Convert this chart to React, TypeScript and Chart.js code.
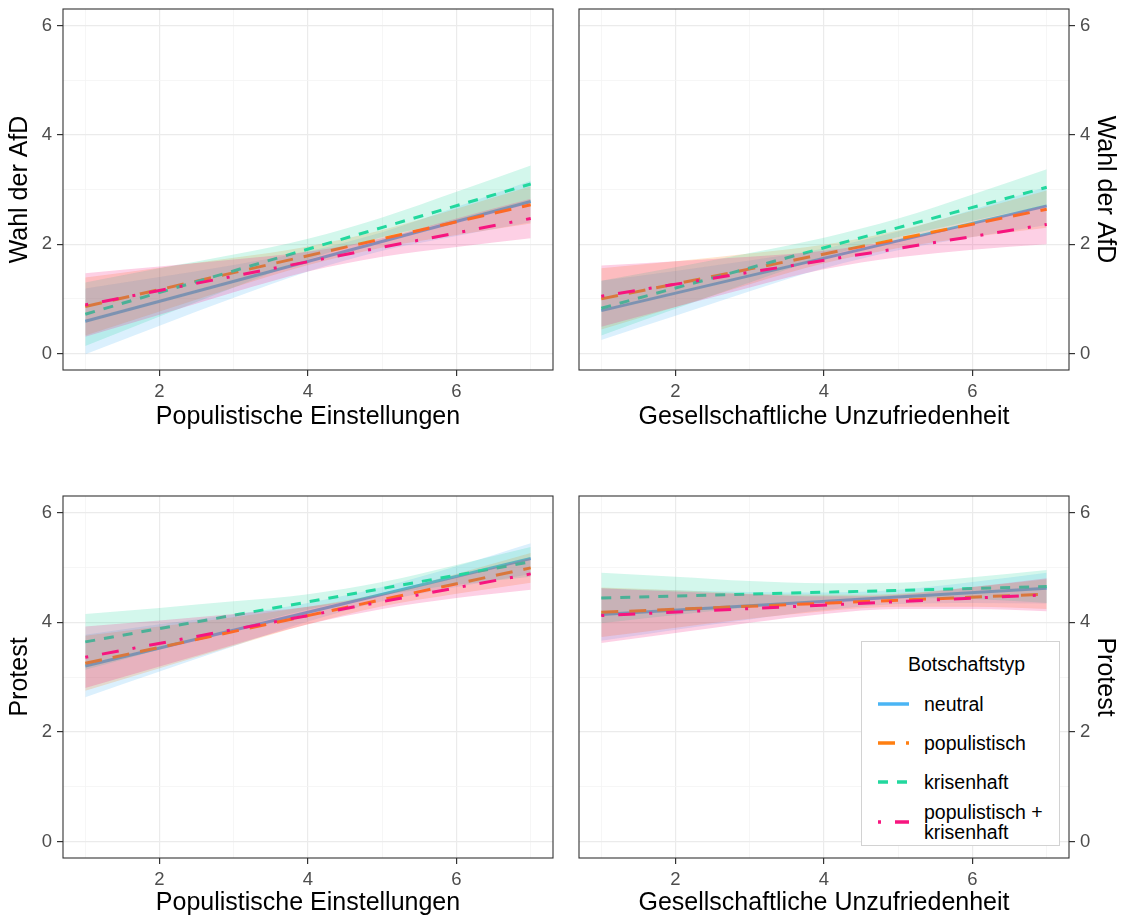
import React, { useEffect, useRef } from 'react';
import { Chart, registerables } from 'chart.js';

Chart.register(...registerables);

// ---------- data ----------
const xGrid = [1, 2, 3, 4, 5, 6, 7];
const lineEnds = [1, 7];
const groupNames = ['neutral', 'populistisch', 'krisenhaft', 'populistisch +\nkrisenhaft'];
const groupColors = ['#4AB5F4', '#FF7F11', '#22D89E', '#F7157F'];
const groupDashes = [[], [17, 11], [10, 9], [3, 14, 17, 14]];

// Panel 1: Populistische Einstellungen -> Wahl der AfD
const afdPopMeans = [[0.59, 2.78], [0.86, 2.72], [0.72, 3.10], [0.89, 2.47]];
const afdPopLower = [
  [-0.01, 0.51, 1.02, 1.50, 1.88, 2.15, 2.40],
  [0.33, 0.77, 1.21, 1.62, 1.94, 2.17, 2.38],
  [0.14, 0.68, 1.21, 1.72, 2.13, 2.44, 2.76],
  [0.31, 0.71, 1.12, 1.50, 1.77, 1.95, 2.11],
];
const afdPopUpper = [
  [1.19, 1.40, 1.62, 1.87, 2.22, 2.68, 3.16],
  [1.39, 1.57, 1.75, 1.96, 2.26, 2.65, 3.06],
  [1.30, 1.56, 1.81, 2.10, 2.49, 2.96, 3.44],
  [1.47, 1.59, 1.72, 1.86, 2.11, 2.47, 2.83],
];

// Panel 2: Gesellschaftliche Unzufriedenheit -> Wahl der AfD
const afdUnzMeans = [[0.785, 2.70], [1.0, 2.64], [0.83, 3.04], [1.05, 2.36]];
const afdUnzLower = [
  [0.25, 0.69, 1.14, 1.56, 1.89, 2.13, 2.35],
  [0.44, 0.85, 1.27, 1.65, 1.93, 2.13, 2.30],
  [0.33, 0.82, 1.30, 1.76, 2.13, 2.43, 2.71],
  [0.49, 0.85, 1.21, 1.54, 1.76, 1.90, 2.00],
];
const afdUnzUpper = [
  [1.33, 1.51, 1.70, 1.92, 2.23, 2.63, 3.05],
  [1.56, 1.69, 1.83, 1.99, 2.25, 2.61, 2.98],
  [1.33, 1.58, 1.84, 2.12, 2.47, 2.91, 3.37],
  [1.61, 1.69, 1.77, 1.88, 2.08, 2.38, 2.72],
];

// Panel 3: Populistische Einstellungen -> Protest
const proPopMeans = [[3.20, 5.16], [3.25, 4.99], [3.64, 5.10], [3.36, 4.88]];
const proPopLower = [
  [2.63, 3.10, 3.56, 4.01, 4.38, 4.64, 4.88],
  [2.75, 3.16, 3.57, 3.96, 4.29, 4.52, 4.72],
  [3.13, 3.50, 3.88, 4.23, 4.49, 4.68, 4.83],
  [2.80, 3.19, 3.59, 3.96, 4.24, 4.44, 4.59],
];
const proPopUpper = [
  [3.77, 3.96, 4.14, 4.35, 4.64, 5.02, 5.44],
  [3.75, 3.92, 4.09, 4.28, 4.53, 4.88, 5.26],
  [4.15, 4.26, 4.38, 4.51, 4.73, 5.04, 5.37],
  [3.92, 4.03, 4.15, 4.28, 4.50, 4.82, 5.17],
];

// Panel 4: Gesellschaftliche Unzufriedenheit -> Protest
const proUnzMeans = [[4.14, 4.62], [4.18, 4.51], [4.44, 4.65], [4.12, 4.50]];
const proUnzLower = [
  [3.66, 3.86, 4.05, 4.22, 4.33, 4.35, 4.34],
  [3.73, 3.90, 4.06, 4.20, 4.28, 4.28, 4.24],
  [3.98, 4.13, 4.27, 4.39, 4.44, 4.42, 4.35],
  [3.62, 3.80, 3.99, 4.15, 4.24, 4.24, 4.20],
];
const proUnzUpper = [
  [4.62, 4.58, 4.55, 4.54, 4.59, 4.73, 4.90],
  [4.63, 4.58, 4.52, 4.50, 4.52, 4.64, 4.78],
  [4.90, 4.83, 4.75, 4.71, 4.72, 4.82, 4.95],
  [4.62, 4.56, 4.51, 4.47, 4.50, 4.64, 4.80],
];

const xTitleLeft = 'Populistische Einstellungen';
const xTitleRight = 'Gesellschaftliche Unzufriedenheit';
const yTitleTop = 'Wahl der AfD';
const yTitleBottom = 'Protest';
const legendTitle = 'Botschaftstyp';

const FONT = "'Liberation Sans', Arial, Helvetica, sans-serif";

function hexToRgba(hex: string, a: number) {
  const n = parseInt(hex.slice(1), 16);
  return `rgba(${(n >> 16) & 255},${(n >> 8) & 255},${n & 255},${a})`;
}

const panelBorder = {
  id: 'panelBorder',
  afterDatasetsDraw(chart: any) {
    const { ctx, chartArea: a } = chart;
    ctx.save();
    ctx.strokeStyle = '#333333';
    ctx.lineWidth = 1.1;
    ctx.strokeRect(a.left, a.top, a.right - a.left, a.bottom - a.top);
    ctx.restore();
  },
};

type PanelProps = {
  left: number; top: number; width: number; height: number;
  padLeft: number; padRight: number; padTop: number;
  xHeight: number; yWidth: number;
  yPos: 'left' | 'right';
  xTitle: string; yTitle: string;
  xTitlePad: number; yTitlePad: number;
  means: number[][]; lower: number[][]; upper: number[][];
};

const isMajor = (c: any) => c.tick && Math.round(c.tick.value) % 2 === 0;

function Panel(p: PanelProps) {
  const ref = useRef<HTMLCanvasElement>(null);
  useEffect(() => {
    const datasets: any[] = [];
    p.means.forEach((m, g) => {
      const color = groupColors[g];
      datasets.push({
        label: groupNames[g] + ' lo',
        data: xGrid.map((x, i) => ({ x, y: p.lower[g][i] })),
        borderWidth: 0, borderColor: 'transparent', pointRadius: 0, fill: false,
        cubicInterpolationMode: 'monotone',
      });
      datasets.push({
        label: groupNames[g] + ' hi',
        data: xGrid.map((x, i) => ({ x, y: p.upper[g][i] })),
        borderWidth: 0, borderColor: 'transparent', pointRadius: 0, fill: '-1',
        backgroundColor: hexToRgba(color, 0.2),
        cubicInterpolationMode: 'monotone',
      });
      datasets.push({
        label: groupNames[g],
        data: lineEnds.map((x, i) => ({ x, y: m[i] })),
        borderColor: color, borderWidth: 3, borderDash: groupDashes[g],
        borderCapStyle: 'butt', pointRadius: 0, fill: false,
      });
    });
    datasets.forEach((d, i) => { d.order = datasets.length - i; });

    const chart = new Chart(ref.current as HTMLCanvasElement, {
      type: 'line',
      data: { datasets },
      plugins: [panelBorder],
      options: {
        animation: false,
        responsive: false,
        events: [],
        layout: { padding: { left: p.padLeft, right: p.padRight, top: p.padTop, bottom: 0 } },
        plugins: {
          legend: { display: false },
          tooltip: { enabled: false },
          filler: { drawTime: 'beforeDatasetDraw' },
        } as any,
        scales: {
          x: {
            type: 'linear', min: 0.7, max: 7.3,
            afterFit: (s: any) => { s.height = p.xHeight; },
            ticks: {
              stepSize: 1, includeBounds: false, autoSkip: false, maxRotation: 0,
              color: '#4D4D4D', font: { size: 18.5, family: FONT }, padding: 5,
              callback: (v: any) => (Math.round(v) % 2 === 0 ? String(v) : ''),
            },
            grid: {
              color: (c: any) => (isMajor(c) ? '#EBEBEB' : '#F4F4F4'),
              lineWidth: (c: any) => (isMajor(c) ? 1.2 : 0.8),
              tickLength: 6, tickWidth: 1.2,
              tickColor: (c: any) => (isMajor(c) ? '#333333' : 'rgba(0,0,0,0)'),
            },
            border: { display: false },
            title: {
              display: true, text: p.xTitle, color: '#000000',
              font: { size: 25, family: FONT }, padding: { top: 0, bottom: p.xTitlePad },
            },
          },
          y: {
            type: 'linear', position: p.yPos, min: -0.3, max: 6.3,
            afterFit: (s: any) => { s.width = p.yWidth; },
            ticks: {
              stepSize: 1, includeBounds: false, autoSkip: false,
              color: '#4D4D4D', font: { size: 18.5, family: FONT }, padding: 5,
              callback: (v: any) => (Math.round(v) % 2 === 0 ? String(v) : ''),
            },
            grid: {
              color: (c: any) => (isMajor(c) ? '#EBEBEB' : '#F4F4F4'),
              lineWidth: (c: any) => (isMajor(c) ? 1.2 : 0.8),
              tickLength: 6, tickWidth: 1.2,
              tickColor: (c: any) => (isMajor(c) ? '#333333' : 'rgba(0,0,0,0)'),
            },
            border: { display: false },
            title: {
              display: true, text: p.yTitle, color: '#000000',
              font: { size: 25, family: FONT }, padding: { top: p.yTitlePad, bottom: 0 },
            },
          },
        } as any,
      },
    } as any);
    return () => chart.destroy();
  }, []);
  return (
    <canvas
      ref={ref}
      width={p.width}
      height={p.height}
      style={{ position: 'absolute', left: p.left, top: p.top, width: p.width, height: p.height, display: 'block' }}
    />
  );
}

function Legend() {
  const rows = [703, 742, 781, 821];
  return (
    <div style={{
      position: 'absolute', left: 861, top: 641, width: 199, height: 205,
      border: '1px solid #D2D2D2', background: '#FFFFFF', boxSizing: 'border-box',
      fontFamily: FONT, color: '#000000',
    }}>
      <div style={{ position: 'absolute', left: 46, top: 10, fontSize: 19.5, lineHeight: '24px', whiteSpace: 'nowrap' }}>
        {legendTitle}
      </div>
      {groupNames.map((name, g) => {
        const cy = rows[g] - 641;
        const lines = name.split('\n');
        const lh = 20;
        return (
          <React.Fragment key={name}>
            <svg style={{ position: 'absolute', left: 15, top: cy - 5 }} width={33} height={10}>
              <line x1={1} y1={5} x2={32} y2={5} stroke={groupColors[g]} strokeWidth={3.5}
                strokeDasharray={groupDashes[g].length ? groupDashes[g].join(' ') : undefined} />
            </svg>
            <div style={{
              position: 'absolute', left: 62, top: cy - (lines.length * lh) / 2,
              fontSize: 19.5, lineHeight: lh + 'px', whiteSpace: 'nowrap',
            }}>
              {lines.map((l, i) => <div key={i}>{l}</div>)}
            </div>
          </React.Fragment>
        );
      })}
    </div>
  );
}

export default function App() {
  return (
    <div style={{ position: 'absolute', left: 0, top: 0, width: 1123, height: 918, background: '#FFFFFF', overflow: 'hidden' }}>
      <Panel left={0} top={-12} width={566} height={462} padLeft={0} padRight={13} padTop={21}
        xHeight={80} yWidth={63} yPos="left" xTitle={xTitleLeft} yTitle={yTitleTop}
        xTitlePad={18} yTitlePad={5} means={afdPopMeans} lower={afdPopLower} upper={afdPopUpper} />
      <Panel left={566} top={-12} width={557} height={462} padLeft={13} padRight={0} padTop={21}
        xHeight={80} yWidth={54} yPos="right" xTitle={xTitleRight} yTitle={yTitleTop}
        xTitlePad={18} yTitlePad={3} means={afdUnzMeans} lower={afdUnzLower} upper={afdUnzUpper} />
      <Panel left={0} top={450} width={566} height={468} padLeft={0} padRight={13} padTop={46}
        xHeight={60} yWidth={63} yPos="left" xTitle={xTitleLeft} yTitle={yTitleBottom}
        xTitlePad={0} yTitlePad={5} means={proPopMeans} lower={proPopLower} upper={proPopUpper} />
      <Panel left={566} top={450} width={557} height={468} padLeft={13} padRight={0} padTop={46}
        xHeight={60} yWidth={54} yPos="right" xTitle={xTitleRight} yTitle={yTitleBottom}
        xTitlePad={0} yTitlePad={3} means={proUnzMeans} lower={proUnzLower} upper={proUnzUpper} />
      <Legend />
    </div>
  );
}
